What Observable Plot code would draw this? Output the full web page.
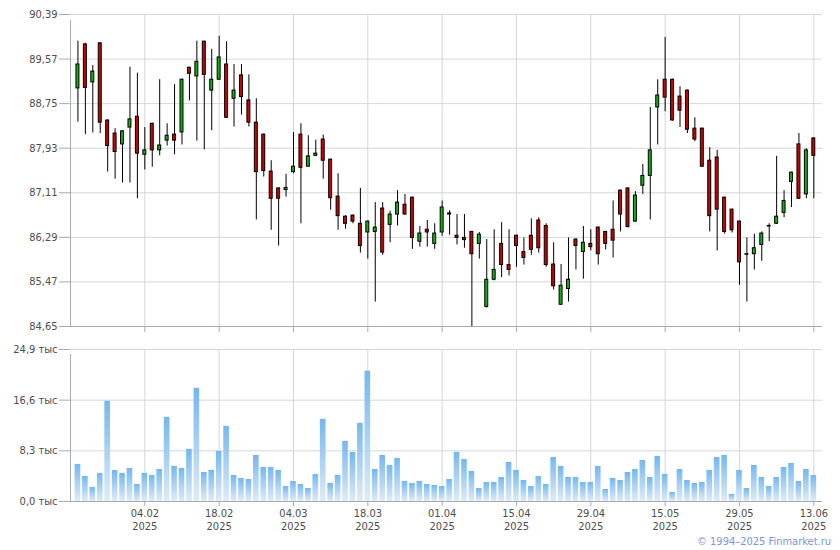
<!DOCTYPE html>
<html>
<head>
<meta charset="utf-8">
<script src="https://cdn.jsdelivr.net/npm/d3@7"></script>
<script src="https://cdn.jsdelivr.net/npm/@observablehq/plot@0.6"></script>
<style>
  body { margin: 0; background: #fff; }
  #wrap { position: relative; width: 840px; height: 550px; overflow: hidden; }
  #price, #vol { position: absolute; left: 0; }
  #price { top: 0; }
  #vol { top: 335px; }
  #copy { position: absolute; right: 9px; top: 535px; font-size: 11px; line-height: 14px;
          font-family: "DejaVu Sans Condensed", "Liberation Sans", sans-serif; color: #7896e0; }
</style>
</head>
<body>
<div id="wrap">
  <div id="price"></div>
  <div id="vol"></div>
  <div id="copy">© 1994–2025 Finmarket.ru</div>
</div>
<script>
// ---- data (one entry per trading session, 22.01.2025 – 13.06.2025) ----
const open = [89.03,89.84,89.14,89.86,88.44,88.20,88.00,88.31,88.51,87.81,
              88.38,87.89,88.07,88.18,88.22,89.41,89.25,89.89,88.99,89.19,
              89.47,88.84,89.27,88.81,88.40,88.18,87.50,87.19,87.16,87.49,
              88.18,87.59,87.79,88.09,87.72,87.04,86.67,86.69,86.54,86.38,
              86.39,86.82,86.52,86.71,86.89,87.02,86.21,86.43,86.17,86.38,
              86.73,86.32,86.28,86.39,86.17,85.01,85.51,86.17,85.78,86.32,
              86.02,86.32,86.60,86.50,85.79,85.05,85.34,86.25,86.02,86.17,
              86.47,86.39,86.43,87.15,87.19,86.58,87.24,87.42,88.68,89.19,
              89.19,88.88,88.99,88.29,88.29,87.70,87.76,87.02,86.80,86.58,
              85.98,85.98,86.15,86.49,86.54,86.74,87.31,88.00,87.08,88.11];
const high = [89.90,89.86,89.45,89.87,88.45,88.29,88.25,89.42,89.31,88.31,
              88.39,89.19,88.38,89.10,89.20,89.42,89.90,89.90,89.75,89.99,
              89.89,89.47,89.47,89.28,88.84,88.19,87.70,87.20,87.45,88.22,
              88.38,88.16,88.08,88.17,87.73,87.46,86.69,86.70,87.19,86.59,
              86.93,86.93,86.77,87.15,87.08,87.03,86.49,86.60,86.54,86.96,
              86.78,86.71,86.71,86.40,86.38,86.25,86.43,86.56,86.43,86.33,
              86.28,86.63,86.65,86.54,86.19,85.79,86.28,86.26,86.49,86.43,
              86.48,86.40,86.96,87.16,87.20,87.13,87.63,88.68,89.19,89.97,
              89.20,89.06,89.00,88.49,88.30,87.94,87.89,87.03,86.81,86.59,
              86.28,86.35,86.39,86.54,87.78,87.15,87.49,88.20,87.92,88.12];
const low = [88.41,88.18,88.21,88.20,87.49,87.36,87.29,87.29,87.00,87.53,
             87.58,87.79,87.97,87.81,87.99,88.80,88.06,87.90,88.25,89.18,
             88.48,88.32,88.54,88.32,86.61,87.40,86.42,86.13,87.03,87.46,
             86.54,87.58,87.78,87.36,86.79,86.42,86.44,86.54,86.00,85.89,
             85.10,85.96,86.19,86.50,86.70,86.07,86.11,86.11,86.07,86.31,
             86.33,86.15,86.09,84.65,85.89,84.99,85.49,85.55,85.58,85.74,
             85.78,85.96,86.00,85.74,85.32,85.04,85.10,85.69,85.52,86.04,
             85.78,86.06,85.91,86.39,86.46,86.57,87.08,86.61,87.99,88.60,
             88.43,88.31,88.20,88.05,87.58,86.39,86.04,86.35,86.37,85.41,
             85.10,85.69,85.85,86.21,86.53,86.65,86.84,86.99,87.00,87.00];
const close = [89.47,89.04,89.34,88.40,87.97,87.86,88.24,88.46,87.83,87.89,
               87.89,87.98,88.16,88.07,89.19,89.30,89.52,89.28,89.19,89.60,
               88.49,88.99,88.87,88.40,87.49,87.51,87.00,87.00,87.20,87.59,
               87.57,87.78,87.83,87.70,87.01,86.68,86.54,86.58,86.13,86.58,
               86.47,86.01,86.71,86.93,86.71,86.28,86.36,86.38,86.36,86.84,
               86.71,86.28,86.24,85.98,86.34,85.51,85.69,85.78,85.69,86.13,
               85.91,86.06,86.09,85.78,85.39,85.40,85.51,86.13,86.19,86.11,
               85.98,86.17,86.23,86.71,86.48,87.06,87.42,87.89,88.90,88.86,
               88.44,88.62,88.27,88.09,87.59,86.68,86.80,86.39,86.42,85.83,
               85.97,86.09,86.36,86.50,86.67,86.96,87.48,87.00,87.89,87.79];
// volume, thousands
const volume = [6.08,4.10,2.30,4.60,16.42,5.09,4.60,5.42,2.79,4.60,
                4.27,5.25,13.79,5.75,5.42,8.54,18.55,4.76,5.09,8.21,
                12.32,4.27,3.78,3.61,7.55,5.58,5.58,5.09,2.46,3.28,
                2.79,2.13,4.43,13.46,2.96,4.27,9.85,8.05,12.81,21.35,
                5.25,7.55,5.91,7.06,3.28,2.96,3.28,2.79,2.63,2.46,
                3.61,8.05,6.90,4.93,2.13,3.12,3.12,3.94,6.40,5.09,
                3.45,2.46,4.10,2.79,7.22,5.75,3.94,3.94,3.12,3.12,
                5.75,1.97,3.78,3.45,4.76,5.25,6.73,3.94,7.39,4.43,
                1.48,5.25,3.45,2.96,3.12,5.09,7.22,7.55,1.15,5.09,
                2.13,5.91,3.94,2.46,3.94,5.58,6.24,3.28,5.25,4.27];
// axis ticks
const tickIdx = [9,19,29,39,49,59,69,79,89,99];
const tickDates = ["04.02","18.02","04.03","18.03","01.04","15.04","29.04","15.05","29.05","13.06"];
const tickYear = "2025";
const priceTicks = [84.65,85.47,86.29,87.11,87.93,88.75,89.57,90.39];
const volTicks = [0,8.3,16.6,24.9];

// ---- build ----
const data = open.map((o, i) => ({i, open: o, high: high[i], low: low[i], close: close[i], vol: volume[i]}));
const font = '"DejaVu Sans Condensed", "Liberation Sans", sans-serif';
const gridColor = "#d3d7db";
const axisColor = "#a6abb1";
const textColor = "#4d4d4d";
const up = "#0db30d", down = "#d00000";
const xDomain = [-1, 100.17];
const comma = (v, n) => v.toFixed(n).replace(".", ",");

const price = Plot.plot({
  width: 840, height: 335,
  marginLeft: 70, marginRight: 18, marginTop: 14, marginBottom: 9,
  style: {fontFamily: font, fontSize: "11px", background: "transparent", overflow: "visible"},
  x: {domain: xDomain, label: null},
  y: {domain: [84.65, 90.39], label: null},
  color: {type: "identity"},
  marks: [
    Plot.gridX(tickIdx, {stroke: gridColor, strokeOpacity: 1}),
    Plot.gridY(priceTicks, {stroke: gridColor, strokeOpacity: 1}),
    Plot.axisY(priceTicks, {label: null, tickSize: 11, tickPadding: 2, tickFormat: v => comma(v, 2), stroke: axisColor, fill: textColor}),
    Plot.axisX(tickIdx, {label: null, tickSize: 6, tickFormat: () => "", stroke: axisColor}),
    Plot.ruleX([-1], {y1: 84.65, y2: 90.39, stroke: axisColor, insetBottom: -6}),
    Plot.ruleY([84.65], {stroke: axisColor}),
    Plot.ruleX(data, {x: "i", y1: "low", y2: "high", stroke: "#000", strokeWidth: 1}),
    Plot.rect(data, {x1: d => d.i - 0.2, x2: d => d.i + 0.2, y1: "open", y2: "close",
                     fill: d => d.close >= d.open ? up : down, stroke: "#000", strokeWidth: 1})
  ]
});
document.getElementById("price").append(price);

const gradientDefs = () => {
  const defs = d3.create("svg:defs");
  const g = defs.append("linearGradient").attr("id", "volgrad")
    .attr("x1", 0).attr("y1", 0).attr("x2", 0).attr("y2", 1);
  g.append("stop").attr("offset", "0%").attr("stop-color", "#74b7ef");
  g.append("stop").attr("offset", "100%").attr("stop-color", "#e0ebf7");
  return defs.node();
};

const vol = Plot.plot({
  width: 840, height: 215,
  marginLeft: 70, marginRight: 18, marginTop: 14, marginBottom: 49,
  style: {fontFamily: font, fontSize: "11px", background: "transparent", overflow: "visible"},
  x: {domain: xDomain, label: null},
  y: {domain: [0, 24.9], label: null},
  marks: [
    gradientDefs,
    Plot.gridX(tickIdx, {stroke: gridColor, strokeOpacity: 1}),
    Plot.gridY(volTicks, {stroke: gridColor, strokeOpacity: 1}),
    Plot.rect(data, {x1: d => d.i - 0.38, x2: d => d.i + 0.38, y1: 0, y2: "vol", fill: "url(#volgrad)"}),
    Plot.axisY(volTicks, {label: null, tickSize: 11, tickPadding: 2, tickFormat: v => comma(v, 1) + " тыс", stroke: axisColor, fill: textColor}),
    Plot.axisX(tickIdx, {label: null, tickSize: 5, tickPadding: 3, tickFormat: d => tickDates[tickIdx.indexOf(d)], stroke: axisColor, fill: textColor}),
    Plot.axisX(tickIdx, {label: null, tickSize: 0, tickPadding: 21, tickFormat: () => tickYear, fill: textColor}),
    Plot.ruleX([-1], {y1: 0, y2: 24.9, stroke: axisColor, insetBottom: -5}),
    Plot.ruleY([0], {stroke: axisColor})
  ]
});
document.getElementById("vol").append(vol);
</script>
</body>
</html>
